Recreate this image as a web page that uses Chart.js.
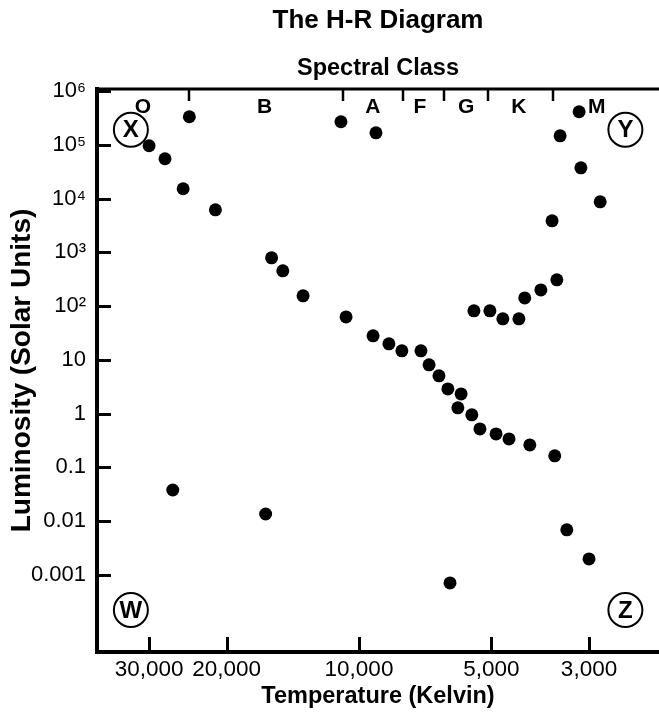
<!DOCTYPE html>
<html>
<head>
<meta charset="utf-8">
<title>The H-R Diagram</title>
<script src="https://cdn.jsdelivr.net/npm/chart.js@4.4.1/dist/chart.umd.min.js"></script>
<style>
  html, body { margin: 0; padding: 0; background: #fff; }
  #wrap { width: 659px; height: 712px; }
</style>
</head>
<body>
<div id="wrap"><canvas id="hrChart" width="659" height="712"></canvas></div>
<script>
// star temperatures (K) and luminosities (solar units)
const mainSeqTemp = [30000, 27600, 25100, 21200, 15800, 14900, 13400, 10700, 9290, 8550, 7990, 7230, 6930, 6580, 6280, 5860, 5960, 5540, 5310, 4880, 4560, 4090, 3590];
const mainSeqLum = [96000, 55000, 15200, 6180, 790, 453, 155, 63, 28, 19.9, 14.7, 14.7, 8.07, 5.04, 2.88, 2.33, 1.28, 0.95, 0.52, 0.42, 0.339, 0.262, 0.164];

const giantTemp = [5480, 5040, 4710, 4330, 4200, 3860, 3550, 3640];
const giantLum = [81.7, 81.7, 58, 58, 142, 200, 308, 3860];

const superTemp = [24300, 10990, 9150, 3490, 3160, 3130, 2830];
const superLum = [332000, 268000, 167000, 147000, 411000, 37300, 8710];

const dwarfTemp = [26500, 16300, 6210, 3370, 3000];
const dwarfLum = [0.038, 0.0136, 0.00071, 0.0069, 0.00199];

// axis ticks
const xTickValues = [30000, 20000, 10000, 5000, 3000];
const xTickLabels = ['30,000', '20,000', '10,000', '5,000', '3,000'];
const yTickValues = [1e6, 1e5, 1e4, 1e3, 100, 10, 1, 0.1, 0.01, 0.001];
const yTickLabels = ['10\u2076', '10\u2075', '10\u2074', '10\u00B3', '10\u00B2', '10', '1', '0.1', '0.01', '0.001'];

// spectral classes along the top
const classBounds = [24300, 10900, 7950, 6400, 5100, 3620];
const classNames = ['O', 'B', 'A', 'F', 'G', 'K', 'M'];
const classTemp = [31000, 16400, 9300, 7270, 5710, 4330, 2880];

// circled corner letters
const cornerNames = ['X', 'Y', 'W', 'Z'];
const cornerTemp = [33000, 2480, 33000, 2480];
const cornerLum = [190000, 190000, 0.000223, 0.000223];

const FONT = "'Liberation Sans', Arial, Helvetica, sans-serif";

function toPoints(temps, lums) {
  return temps.map((t, i) => ({ x: t, y: lums[i] }));
}

const allStars = [].concat(
  toPoints(mainSeqTemp, mainSeqLum),
  toPoints(giantTemp, giantLum),
  toPoints(superTemp, superLum),
  toPoints(dwarfTemp, dwarfLum)
);

// inward tick marks, top frame line, class letters and circled letters
const hrDecor = {
  id: 'hrDecor',
  afterDraw(chart) {
    const { ctx, chartArea: a } = chart;
    const xs = chart.scales.x;
    const ys = chart.scales.y;
    const line = (x1, y1, x2, y2, w) => {
      ctx.lineWidth = w;
      ctx.beginPath();
      ctx.moveTo(x1, y1);
      ctx.lineTo(x2, y2);
      ctx.stroke();
    };
    ctx.save();
    ctx.strokeStyle = '#000';
    ctx.fillStyle = '#000';

    line(a.left - 2, a.top, a.right, a.top, 3);

    yTickValues.forEach(v => {
      const py = Math.round(ys.getPixelForValue(v)) + 0.5;
      line(a.left, py, a.left + 14, py, 3);
    });
    xTickValues.forEach(v => {
      const px = Math.round(xs.getPixelForValue(v)) + 0.5;
      line(px, a.bottom, px, a.bottom - 15, 3);
    });
    classBounds.forEach(v => {
      const px = Math.round(xs.getPixelForValue(v));
      line(px, a.top, px, a.top + 12, 2.5);
    });

    ctx.font = 'bold 21px ' + FONT;
    ctx.textAlign = 'center';
    ctx.textBaseline = 'middle';
    classNames.forEach((name, i) => {
      ctx.fillText(name, xs.getPixelForValue(classTemp[i]), a.top + 18);
    });

    ctx.font = 'bold 24px ' + FONT;
    cornerNames.forEach((name, i) => {
      const cx = xs.getPixelForValue(cornerTemp[i]);
      const cy = ys.getPixelForValue(cornerLum[i]);
      ctx.lineWidth = 2;
      ctx.beginPath();
      ctx.arc(cx, cy, 17, 0, Math.PI * 2);
      ctx.stroke();
      ctx.fillText(name, cx, cy + 1);
    });
    ctx.restore();
  }
};

new Chart(document.getElementById('hrChart'), {
  type: 'scatter',
  data: {
    datasets: [{
      label: 'Stars',
      data: allStars,
      backgroundColor: '#000',
      borderWidth: 0,
      pointRadius: 6.5,
      pointHoverRadius: 6.5
    }]
  },
  options: {
    responsive: false,
    animation: false,
    layout: { padding: 0, autoPadding: false },
    plugins: {
      legend: { display: false },
      tooltip: { enabled: false },
      title: {
        display: true,
        text: 'The H-R Diagram',
        fullSize: false,
        color: '#000',
        font: { family: FONT, size: 26, weight: 'bold' },
        padding: { top: 5, bottom: 0 }
      },
      subtitle: {
        display: true,
        text: 'Spectral Class',
        fullSize: false,
        color: '#000',
        font: { family: FONT, size: 23.5, weight: 'bold' },
        padding: { top: 18.7, bottom: 5.9 }
      }
    },
    scales: {
      x: {
        type: 'logarithmic',
        reverse: true,
        min: 2080,
        max: 39400,
        afterBuildTicks: scale => {
          scale.ticks = xTickValues.map(v => ({ value: v }));
        },
        afterFit: scale => {
          scale.height = 60;
          scale.paddingLeft = 0;
          scale.paddingRight = 0;
        },
        grid: { display: false, drawTicks: false },
        border: { color: '#000', width: 4 },
        ticks: {
          autoSkip: false,
          maxRotation: 0,
          padding: 4,
          color: '#000',
          font: { family: FONT, size: 22.5 },
          callback: (value, index) => xTickLabels[index]
        },
        title: {
          display: true,
          text: 'Temperature (Kelvin)',
          color: '#000',
          font: { family: FONT, size: 23.5, weight: 'bold' },
          padding: { top: 0, bottom: 1 }
        }
      },
      y: {
        type: 'logarithmic',
        min: 3.69e-5,
        max: 1.09e6,
        afterBuildTicks: scale => {
          scale.ticks = yTickValues.map(v => ({ value: v }));
        },
        afterFit: scale => { scale.width = 97; },
        grid: { display: false, drawTicks: false },
        border: { color: '#000', width: 4 },
        ticks: {
          autoSkip: false,
          padding: 11,
          color: '#000',
          font: { family: FONT, size: 22 },
          callback: (value, index) => yTickLabels[index]
        },
        title: {
          display: true,
          text: 'Luminosity (Solar Units)',
          color: '#000',
          font: { family: FONT, size: 28, weight: 'bold' },
          padding: { top: 5, bottom: 0 }
        }
      }
    }
  },
  plugins: [hrDecor]
});
</script>
</body>
</html>
